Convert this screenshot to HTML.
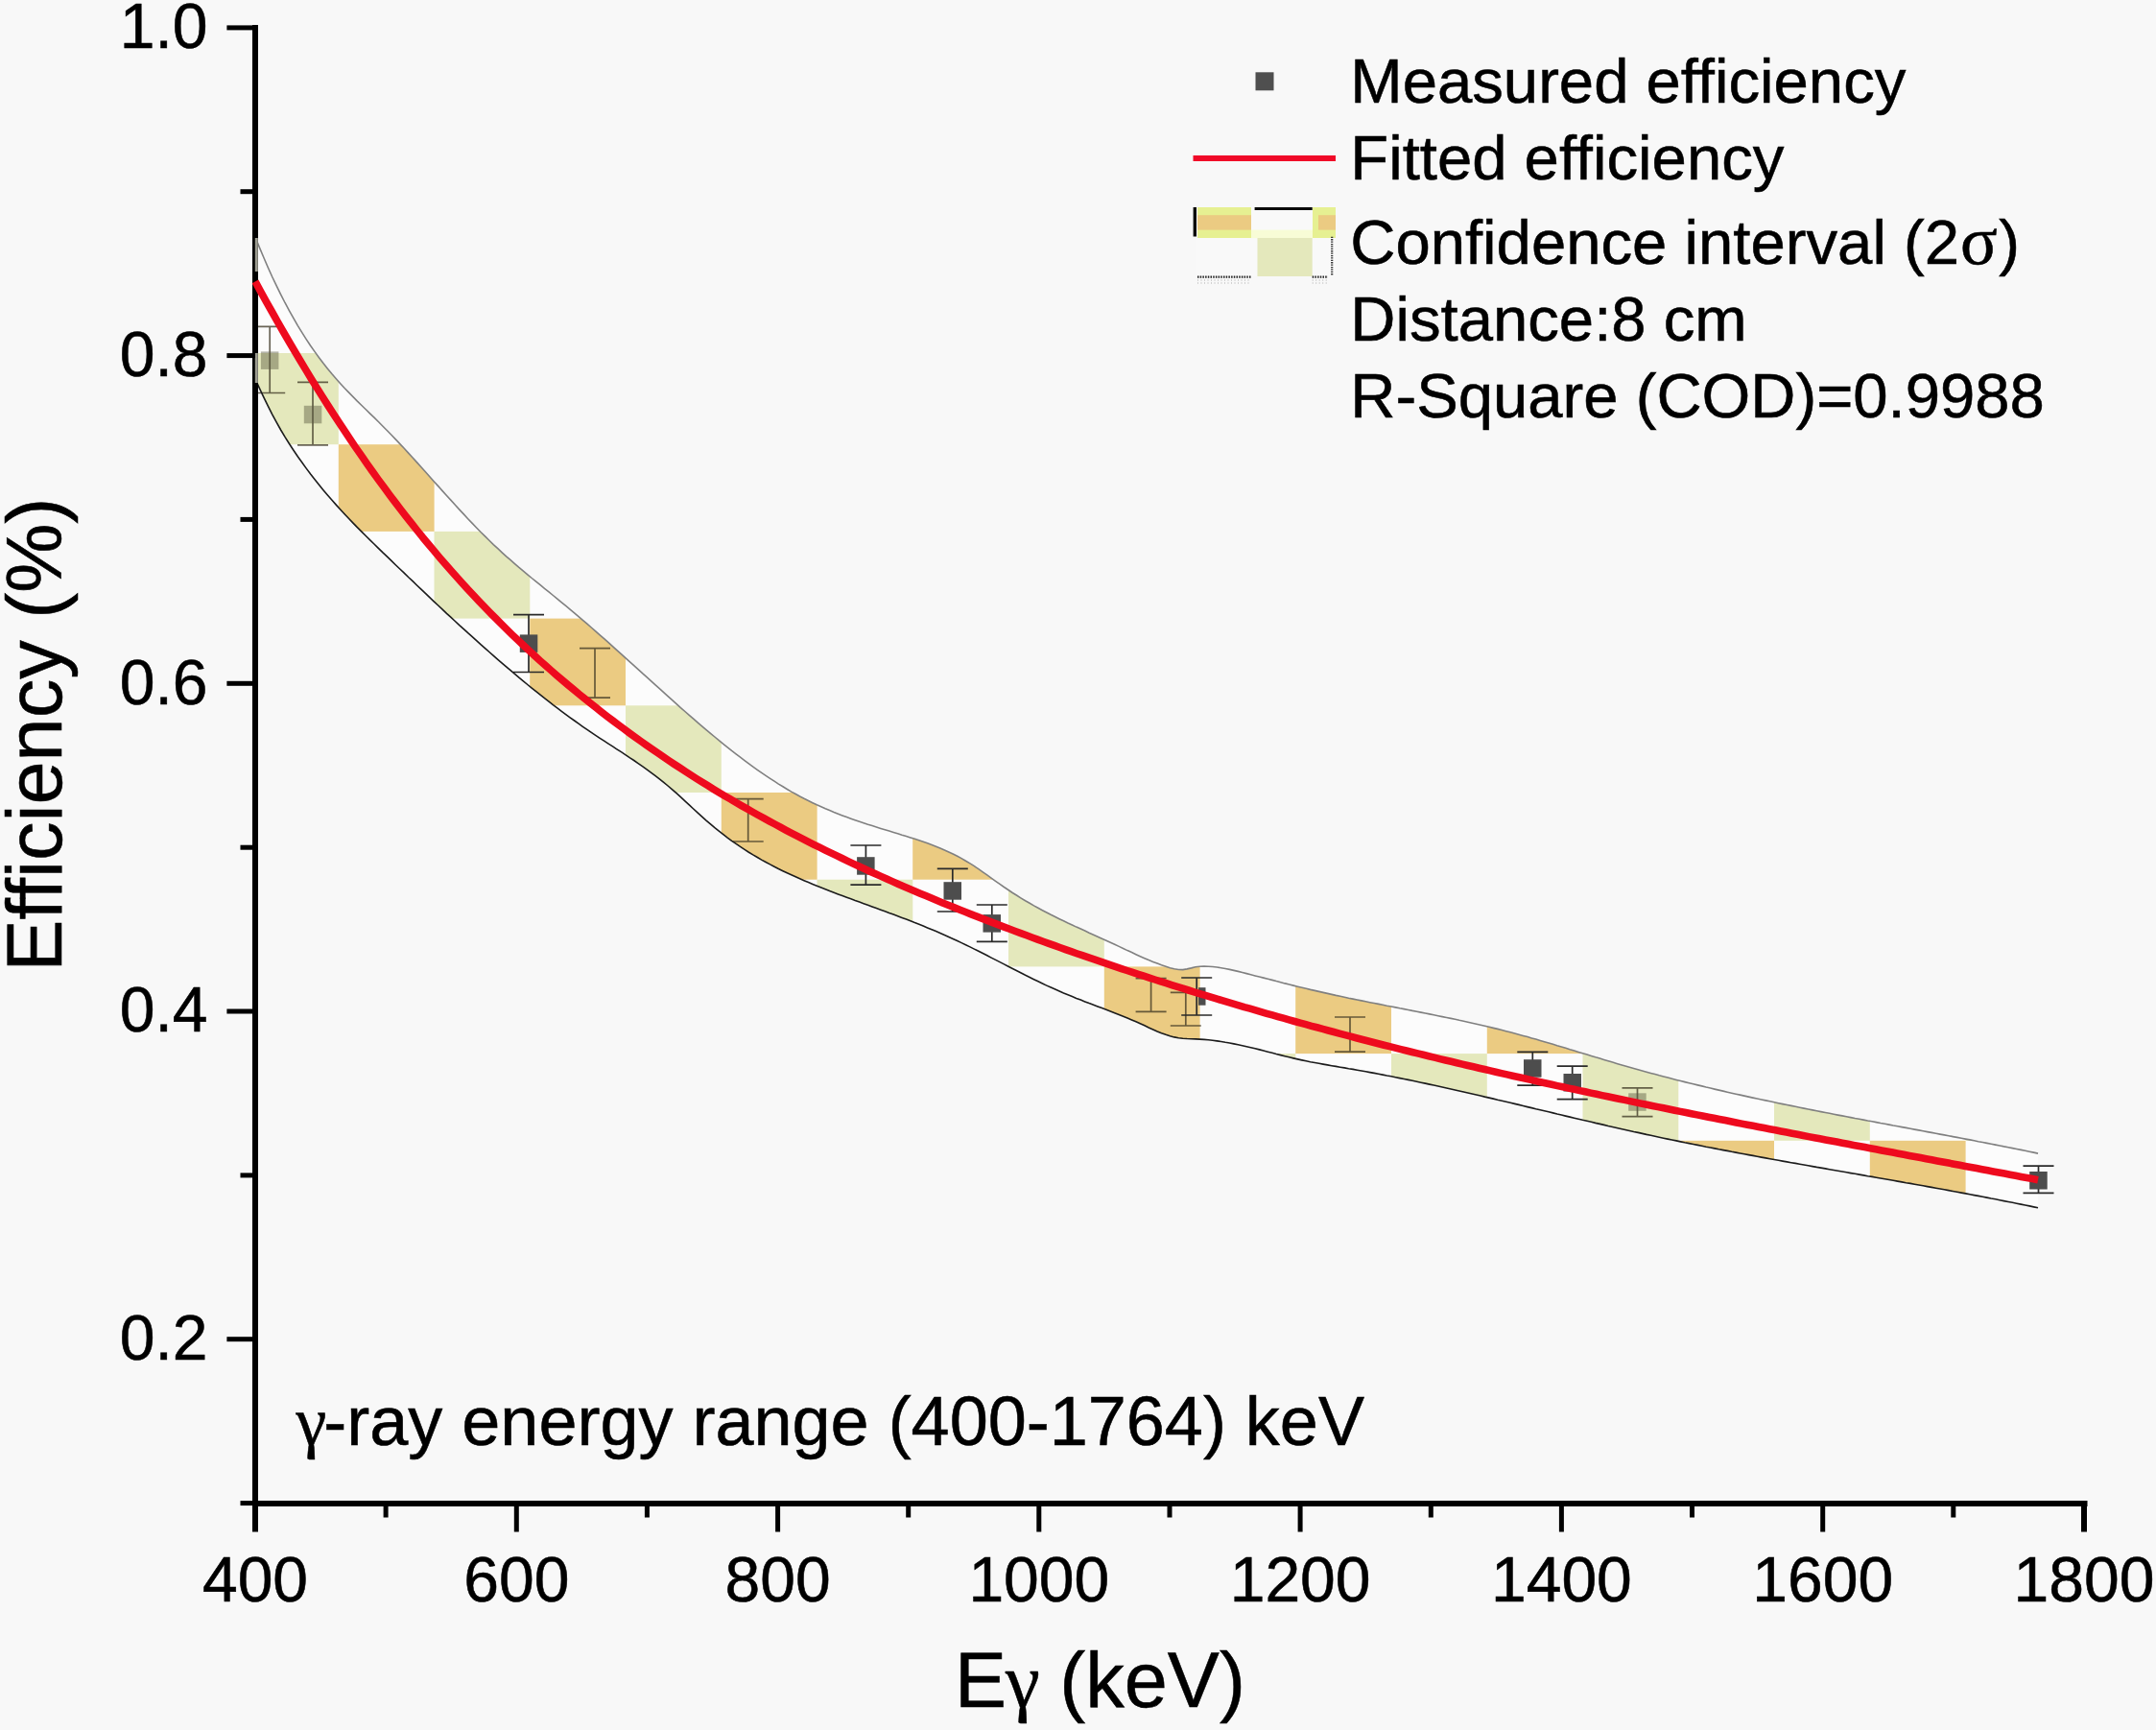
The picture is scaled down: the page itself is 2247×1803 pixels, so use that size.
<!DOCTYPE html>
<html lang="en"><head><meta charset="utf-8"><title>Efficiency vs E gamma</title>
<style>html,body{margin:0;padding:0;background:#f8f8f8;overflow:hidden;}svg{display:block;}text{font-family:"Liberation Sans",sans-serif;fill:#000;stroke:#000;stroke-width:0.55px;}.sym{font-family:"Liberation Serif","DejaVu Serif",serif;}</style></head><body>
<svg width="2247" height="1803" viewBox="0 0 2247 1803">
<rect x="0" y="0" width="2247" height="1803" fill="#f8f8f8"/>
<defs><clipPath id="band"><path d="M266.0,246.9 L270.4,257.9 L274.9,268.5 L279.3,278.7 L283.7,288.5 L288.2,297.9 L292.6,306.9 L297.0,315.5 L301.5,323.8 L305.9,331.7 L310.3,339.3 L314.8,346.6 L319.2,353.6 L323.6,360.3 L328.1,366.6 L332.5,372.7 L336.9,378.6 L341.4,384.2 L345.8,389.6 L350.3,394.7 L354.7,399.7 L359.1,404.5 L363.6,409.1 L368.0,413.6 L372.4,418.1 L376.9,422.5 L381.3,426.8 L385.7,431.1 L390.2,435.4 L394.6,439.8 L399.0,444.2 L403.5,448.7 L407.9,453.2 L412.3,457.9 L416.8,462.6 L421.2,467.3 L425.6,472.1 L430.1,477.0 L434.5,481.9 L438.9,486.8 L443.4,491.7 L447.8,496.7 L452.2,501.7 L456.7,506.6 L461.1,511.6 L465.5,516.5 L470.0,521.4 L474.4,526.3 L478.8,531.1 L483.3,535.9 L487.7,540.7 L492.2,545.4 L496.6,550.0 L501.0,554.5 L505.5,558.9 L509.9,563.3 L514.3,567.6 L518.8,571.7 L523.2,575.8 L527.6,579.8 L532.1,583.7 L536.5,587.6 L540.9,591.4 L545.4,595.1 L549.8,598.8 L554.2,602.5 L558.7,606.1 L563.1,609.7 L567.5,613.4 L572.0,616.9 L576.4,620.5 L580.8,624.1 L585.3,627.8 L589.7,631.4 L594.1,635.1 L598.6,638.8 L603.0,642.6 L607.4,646.3 L611.9,650.2 L616.3,654.0 L620.7,657.9 L625.2,661.8 L629.6,665.7 L634.1,669.7 L638.5,673.6 L642.9,677.6 L647.4,681.6 L651.8,685.6 L656.2,689.6 L660.7,693.6 L665.1,697.6 L669.5,701.7 L674.0,705.7 L678.4,709.7 L682.8,713.7 L687.3,717.7 L691.7,721.7 L696.1,725.7 L700.6,729.7 L705.0,733.6 L709.4,737.6 L713.9,741.5 L718.3,745.4 L722.7,749.2 L727.2,753.1 L731.6,756.9 L736.0,760.6 L740.5,764.3 L744.9,768.0 L749.3,771.7 L753.8,775.3 L758.2,778.8 L762.6,782.4 L767.1,785.8 L771.5,789.2 L776.0,792.6 L780.4,795.9 L784.8,799.1 L789.3,802.3 L793.7,805.4 L798.1,808.4 L802.6,811.4 L807.0,814.2 L811.4,817.1 L815.9,819.8 L820.3,822.5 L824.7,825.1 L829.2,827.5 L833.6,830.0 L838.0,832.3 L842.5,834.5 L846.9,836.7 L851.3,838.8 L855.8,840.8 L860.2,842.8 L864.6,844.6 L869.1,846.5 L873.5,848.2 L877.9,849.9 L882.4,851.6 L886.8,853.2 L891.2,854.7 L895.7,856.2 L900.1,857.7 L904.5,859.2 L909.0,860.6 L913.4,862.0 L917.9,863.4 L922.3,864.7 L926.7,866.1 L931.2,867.5 L935.6,868.8 L940.0,870.2 L944.5,871.5 L948.9,872.9 L953.3,874.3 L957.8,875.8 L962.2,877.3 L966.6,878.8 L971.1,880.5 L975.5,882.2 L979.9,884.0 L984.4,885.9 L988.8,887.9 L993.2,890.0 L997.7,892.2 L1002.1,894.6 L1006.5,897.2 L1011.0,899.9 L1015.4,902.7 L1019.8,905.7 L1024.3,908.8 L1028.7,911.9 L1033.1,915.1 L1037.6,918.3 L1042.0,921.4 L1046.4,924.5 L1050.9,927.5 L1055.3,930.5 L1059.8,933.3 L1064.2,936.1 L1068.6,938.8 L1073.1,941.3 L1077.5,943.9 L1081.9,946.3 L1086.4,948.7 L1090.8,951.0 L1095.2,953.3 L1099.7,955.5 L1104.1,957.7 L1108.5,959.8 L1113.0,962.0 L1117.4,964.0 L1121.8,966.1 L1126.3,968.1 L1130.7,970.1 L1135.1,972.2 L1139.6,974.2 L1144.0,976.2 L1148.4,978.2 L1152.9,980.2 L1157.3,982.2 L1161.7,984.3 L1166.2,986.4 L1170.6,988.5 L1175.0,990.6 L1179.5,992.6 L1183.9,994.7 L1188.3,996.7 L1192.8,998.7 L1197.2,1000.6 L1201.7,1002.4 L1206.1,1004.1 L1210.5,1005.8 L1215.0,1007.3 L1219.4,1008.7 L1223.8,1009.8 L1228.3,1010.5 L1232.7,1010.6 L1237.1,1009.9 L1241.6,1008.9 L1246.0,1007.8 L1250.4,1007.2 L1254.9,1007.0 L1259.3,1007.2 L1263.7,1007.5 L1268.2,1008.0 L1272.6,1008.7 L1277.0,1009.5 L1281.5,1010.4 L1285.9,1011.4 L1290.3,1012.4 L1294.8,1013.5 L1299.2,1014.6 L1303.6,1015.7 L1308.1,1016.9 L1312.5,1018.0 L1316.9,1019.1 L1321.4,1020.3 L1325.8,1021.4 L1330.2,1022.6 L1334.7,1023.7 L1339.1,1024.9 L1343.6,1026.0 L1348.0,1027.1 L1352.4,1028.2 L1356.9,1029.3 L1361.3,1030.3 L1365.7,1031.4 L1370.2,1032.4 L1374.6,1033.4 L1379.0,1034.4 L1383.5,1035.4 L1387.9,1036.4 L1392.3,1037.4 L1396.8,1038.3 L1401.2,1039.2 L1405.6,1040.2 L1410.1,1041.1 L1414.5,1042.0 L1418.9,1042.9 L1423.4,1043.8 L1427.8,1044.7 L1432.2,1045.5 L1436.7,1046.4 L1441.1,1047.3 L1445.5,1048.2 L1450.0,1049.0 L1454.4,1049.9 L1458.8,1050.8 L1463.3,1051.6 L1467.7,1052.5 L1472.1,1053.4 L1476.6,1054.2 L1481.0,1055.1 L1485.5,1056.0 L1489.9,1056.9 L1494.3,1057.8 L1498.8,1058.7 L1503.2,1059.6 L1507.6,1060.5 L1512.1,1061.4 L1516.5,1062.3 L1520.9,1063.3 L1525.4,1064.2 L1529.8,1065.2 L1534.2,1066.2 L1538.7,1067.2 L1543.1,1068.2 L1547.5,1069.2 L1552.0,1070.3 L1556.4,1071.4 L1560.8,1072.4 L1565.3,1073.5 L1569.7,1074.7 L1574.1,1075.8 L1578.6,1077.0 L1583.0,1078.2 L1587.4,1079.4 L1591.9,1080.6 L1596.3,1081.9 L1600.7,1083.1 L1605.2,1084.4 L1609.6,1085.7 L1614.0,1087.0 L1618.5,1088.3 L1622.9,1089.7 L1627.4,1091.0 L1631.8,1092.3 L1636.2,1093.7 L1640.7,1095.0 L1645.1,1096.4 L1649.5,1097.7 L1654.0,1099.1 L1658.4,1100.4 L1662.8,1101.8 L1667.3,1103.1 L1671.7,1104.5 L1676.1,1105.8 L1680.6,1107.1 L1685.0,1108.4 L1689.4,1109.7 L1693.9,1111.0 L1698.3,1112.3 L1702.7,1113.5 L1707.2,1114.8 L1711.6,1116.0 L1716.0,1117.2 L1720.5,1118.4 L1724.9,1119.6 L1729.3,1120.8 L1733.8,1121.9 L1738.2,1123.1 L1742.6,1124.2 L1747.1,1125.4 L1751.5,1126.5 L1755.9,1127.6 L1760.4,1128.7 L1764.8,1129.8 L1769.3,1130.9 L1773.7,1131.9 L1778.1,1133.0 L1782.6,1134.0 L1787.0,1135.1 L1791.4,1136.1 L1795.9,1137.1 L1800.3,1138.2 L1804.7,1139.2 L1809.2,1140.2 L1813.6,1141.1 L1818.0,1142.1 L1822.5,1143.1 L1826.9,1144.1 L1831.3,1145.0 L1835.8,1146.0 L1840.2,1146.9 L1844.6,1147.8 L1849.1,1148.8 L1853.5,1149.7 L1857.9,1150.6 L1862.4,1151.5 L1866.8,1152.4 L1871.2,1153.3 L1875.7,1154.2 L1880.1,1155.1 L1884.5,1156.0 L1889.0,1156.9 L1893.4,1157.7 L1897.8,1158.6 L1902.3,1159.5 L1906.7,1160.3 L1911.2,1161.2 L1915.6,1162.1 L1920.0,1162.9 L1924.5,1163.8 L1928.9,1164.6 L1933.3,1165.5 L1937.8,1166.3 L1942.2,1167.1 L1946.6,1168.0 L1951.1,1168.8 L1955.5,1169.6 L1959.9,1170.5 L1964.4,1171.3 L1968.8,1172.1 L1973.2,1173.0 L1977.7,1173.8 L1982.1,1174.6 L1986.5,1175.4 L1991.0,1176.3 L1995.4,1177.1 L1999.8,1177.9 L2004.3,1178.7 L2008.7,1179.6 L2013.1,1180.4 L2017.6,1181.2 L2022.0,1182.1 L2026.4,1182.9 L2030.9,1183.7 L2035.3,1184.6 L2039.7,1185.4 L2044.2,1186.3 L2048.6,1187.1 L2053.1,1187.9 L2057.5,1188.8 L2061.9,1189.7 L2066.4,1190.5 L2070.8,1191.4 L2075.2,1192.2 L2079.7,1193.1 L2084.1,1194.0 L2088.5,1194.9 L2093.0,1195.7 L2097.4,1196.6 L2101.8,1197.5 L2106.3,1198.4 L2110.7,1199.3 L2115.1,1200.2 L2119.6,1201.1 L2124.0,1202.1 L2124.0,1258.8 L2119.6,1257.9 L2115.1,1256.9 L2110.7,1256.0 L2106.3,1255.1 L2101.8,1254.2 L2097.4,1253.3 L2093.0,1252.5 L2088.5,1251.6 L2084.1,1250.7 L2079.7,1249.8 L2075.2,1249.0 L2070.8,1248.1 L2066.4,1247.3 L2061.9,1246.4 L2057.5,1245.6 L2053.1,1244.8 L2048.6,1243.9 L2044.2,1243.1 L2039.7,1242.3 L2035.3,1241.5 L2030.9,1240.6 L2026.4,1239.8 L2022.0,1239.0 L2017.6,1238.2 L2013.1,1237.4 L2008.7,1236.6 L2004.3,1235.8 L1999.8,1235.0 L1995.4,1234.2 L1991.0,1233.4 L1986.5,1232.7 L1982.1,1231.9 L1977.7,1231.1 L1973.2,1230.3 L1968.8,1229.5 L1964.4,1228.8 L1959.9,1228.0 L1955.5,1227.2 L1951.1,1226.4 L1946.6,1225.7 L1942.2,1224.9 L1937.8,1224.1 L1933.3,1223.3 L1928.9,1222.6 L1924.5,1221.8 L1920.0,1221.0 L1915.6,1220.2 L1911.2,1219.5 L1906.7,1218.7 L1902.3,1217.9 L1897.8,1217.1 L1893.4,1216.4 L1889.0,1215.6 L1884.5,1214.8 L1880.1,1214.0 L1875.7,1213.2 L1871.2,1212.4 L1866.8,1211.7 L1862.4,1210.9 L1857.9,1210.1 L1853.5,1209.3 L1849.1,1208.5 L1844.6,1207.7 L1840.2,1206.9 L1835.8,1206.1 L1831.3,1205.2 L1826.9,1204.4 L1822.5,1203.6 L1818.0,1202.8 L1813.6,1202.0 L1809.2,1201.1 L1804.7,1200.3 L1800.3,1199.4 L1795.9,1198.6 L1791.4,1197.8 L1787.0,1196.9 L1782.6,1196.0 L1778.1,1195.2 L1773.7,1194.3 L1769.3,1193.4 L1764.8,1192.5 L1760.4,1191.6 L1755.9,1190.8 L1751.5,1189.9 L1747.1,1188.9 L1742.6,1188.0 L1738.2,1187.1 L1733.8,1186.2 L1729.3,1185.2 L1724.9,1184.3 L1720.5,1183.3 L1716.0,1182.4 L1711.6,1181.4 L1707.2,1180.4 L1702.7,1179.5 L1698.3,1178.5 L1693.9,1177.5 L1689.4,1176.5 L1685.0,1175.5 L1680.6,1174.5 L1676.1,1173.5 L1671.7,1172.4 L1667.3,1171.4 L1662.8,1170.4 L1658.4,1169.3 L1654.0,1168.3 L1649.5,1167.3 L1645.1,1166.2 L1640.7,1165.2 L1636.2,1164.1 L1631.8,1163.1 L1627.4,1162.0 L1622.9,1161.0 L1618.5,1159.9 L1614.0,1158.8 L1609.6,1157.8 L1605.2,1156.7 L1600.7,1155.7 L1596.3,1154.6 L1591.9,1153.6 L1587.4,1152.5 L1583.0,1151.4 L1578.6,1150.4 L1574.1,1149.3 L1569.7,1148.3 L1565.3,1147.2 L1560.8,1146.2 L1556.4,1145.1 L1552.0,1144.1 L1547.5,1143.1 L1543.1,1142.0 L1538.7,1141.0 L1534.2,1140.0 L1529.8,1139.0 L1525.4,1138.0 L1520.9,1137.0 L1516.5,1136.0 L1512.1,1135.0 L1507.6,1134.0 L1503.2,1133.0 L1498.8,1132.0 L1494.3,1131.0 L1489.9,1130.1 L1485.5,1129.1 L1481.0,1128.2 L1476.6,1127.3 L1472.1,1126.3 L1467.7,1125.4 L1463.3,1124.5 L1458.8,1123.6 L1454.4,1122.7 L1450.0,1121.8 L1445.5,1121.0 L1441.1,1120.1 L1436.7,1119.3 L1432.2,1118.4 L1427.8,1117.6 L1423.4,1116.8 L1418.9,1116.0 L1414.5,1115.2 L1410.1,1114.4 L1405.6,1113.7 L1401.2,1112.9 L1396.8,1112.2 L1392.3,1111.4 L1387.9,1110.7 L1383.5,1109.9 L1379.0,1109.1 L1374.6,1108.3 L1370.2,1107.5 L1365.7,1106.7 L1361.3,1105.8 L1356.9,1104.9 L1352.4,1103.9 L1348.0,1102.9 L1343.6,1101.8 L1339.1,1100.7 L1334.7,1099.6 L1330.2,1098.5 L1325.8,1097.3 L1321.4,1096.2 L1316.9,1095.0 L1312.5,1093.9 L1308.1,1092.8 L1303.6,1091.7 L1299.2,1090.7 L1294.8,1089.7 L1290.3,1088.8 L1285.9,1087.9 L1281.5,1087.0 L1277.0,1086.3 L1272.6,1085.5 L1268.2,1084.9 L1263.7,1084.3 L1259.3,1083.8 L1254.9,1083.4 L1250.4,1083.1 L1246.0,1082.9 L1241.6,1082.7 L1237.1,1082.5 L1232.7,1082.2 L1228.3,1081.7 L1223.8,1080.9 L1219.4,1079.7 L1215.0,1078.3 L1210.5,1076.7 L1206.1,1074.9 L1201.7,1072.9 L1197.2,1070.9 L1192.8,1068.8 L1188.3,1066.8 L1183.9,1064.8 L1179.5,1062.9 L1175.0,1061.0 L1170.6,1059.2 L1166.2,1057.5 L1161.7,1055.7 L1157.3,1054.0 L1152.9,1052.3 L1148.4,1050.6 L1144.0,1048.9 L1139.6,1047.2 L1135.1,1045.6 L1130.7,1043.9 L1126.3,1042.1 L1121.8,1040.4 L1117.4,1038.6 L1113.0,1036.8 L1108.5,1035.0 L1104.1,1033.1 L1099.7,1031.1 L1095.2,1029.1 L1090.8,1027.1 L1086.4,1025.0 L1081.9,1022.8 L1077.5,1020.7 L1073.1,1018.5 L1068.6,1016.3 L1064.2,1014.0 L1059.8,1011.8 L1055.3,1009.5 L1050.9,1007.2 L1046.4,1004.9 L1042.0,1002.6 L1037.6,1000.4 L1033.1,998.1 L1028.7,995.8 L1024.3,993.5 L1019.8,991.3 L1015.4,989.1 L1011.0,986.9 L1006.5,984.7 L1002.1,982.6 L997.7,980.5 L993.2,978.4 L988.8,976.4 L984.4,974.4 L979.9,972.5 L975.5,970.6 L971.1,968.7 L966.6,966.9 L962.2,965.1 L957.8,963.3 L953.3,961.6 L948.9,959.8 L944.5,958.1 L940.0,956.4 L935.6,954.8 L931.2,953.1 L926.7,951.5 L922.3,949.8 L917.9,948.2 L913.4,946.6 L909.0,945.0 L904.5,943.3 L900.1,941.7 L895.7,940.1 L891.2,938.5 L886.8,936.8 L882.4,935.2 L877.9,933.5 L873.5,931.9 L869.1,930.2 L864.6,928.5 L860.2,926.7 L855.8,925.0 L851.3,923.2 L846.9,921.4 L842.5,919.6 L838.0,917.7 L833.6,915.8 L829.2,913.8 L824.7,911.8 L820.3,909.8 L815.9,907.7 L811.4,905.5 L807.0,903.2 L802.6,900.9 L798.1,898.5 L793.7,896.1 L789.3,893.5 L784.8,890.9 L780.4,888.2 L776.0,885.3 L771.5,882.4 L767.1,879.4 L762.6,876.3 L758.2,873.1 L753.8,869.7 L749.3,866.2 L744.9,862.7 L740.5,858.9 L736.0,855.1 L731.6,851.1 L727.2,847.1 L722.7,843.0 L718.3,838.9 L713.9,834.8 L709.4,830.7 L705.0,826.7 L700.6,822.8 L696.1,819.0 L691.7,815.4 L687.3,811.8 L682.8,808.4 L678.4,805.1 L674.0,801.8 L669.5,798.7 L665.1,795.6 L660.7,792.5 L656.2,789.6 L651.8,786.6 L647.4,783.7 L642.9,780.8 L638.5,777.9 L634.1,775.1 L629.6,772.2 L625.2,769.3 L620.7,766.3 L616.3,763.4 L611.9,760.4 L607.4,757.3 L603.0,754.2 L598.6,751.0 L594.1,747.8 L589.7,744.6 L585.3,741.3 L580.8,737.9 L576.4,734.6 L572.0,731.1 L567.5,727.7 L563.1,724.2 L558.7,720.7 L554.2,717.1 L549.8,713.5 L545.4,709.8 L540.9,706.2 L536.5,702.4 L532.1,698.7 L527.6,694.9 L523.2,691.1 L518.8,687.3 L514.3,683.4 L509.9,679.5 L505.5,675.6 L501.0,671.7 L496.6,667.7 L492.2,663.7 L487.7,659.7 L483.3,655.6 L478.8,651.6 L474.4,647.5 L470.0,643.4 L465.5,639.3 L461.1,635.1 L456.7,631.0 L452.2,626.8 L447.8,622.6 L443.4,618.4 L438.9,614.2 L434.5,610.0 L430.1,605.7 L425.6,601.5 L421.2,597.2 L416.8,593.0 L412.3,588.7 L407.9,584.4 L403.5,580.1 L399.0,575.9 L394.6,571.6 L390.2,567.2 L385.7,562.9 L381.3,558.5 L376.9,554.1 L372.4,549.6 L368.0,545.1 L363.6,540.5 L359.1,535.8 L354.7,531.0 L350.3,526.1 L345.8,521.1 L341.4,516.0 L336.9,510.7 L332.5,505.3 L328.1,499.7 L323.6,494.0 L319.2,488.1 L314.8,482.0 L310.3,475.8 L305.9,469.3 L301.5,462.5 L297.0,455.4 L292.6,448.0 L288.2,440.2 L283.7,431.9 L279.3,423.2 L274.9,414.2 L270.4,404.7 L266.0,395.0 Z"/></clipPath></defs>
<g clip-path="url(#band)">
<rect x="250" y="230" width="1900" height="1050" fill="#fcfcfc"/>
<rect x="253.0" y="368.0" width="99.8" height="95.20" fill="#e4e8bc"/>
<rect x="452.5" y="368.0" width="99.8" height="95.20" fill="#e4e8bc"/>
<rect x="652.0" y="368.0" width="99.8" height="95.20" fill="#e4e8bc"/>
<rect x="851.5" y="368.0" width="99.8" height="95.20" fill="#e4e8bc"/>
<rect x="1051.0" y="368.0" width="99.8" height="95.20" fill="#e4e8bc"/>
<rect x="1250.5" y="368.0" width="99.8" height="95.20" fill="#e4e8bc"/>
<rect x="1450.0" y="368.0" width="99.8" height="95.20" fill="#e4e8bc"/>
<rect x="1649.5" y="368.0" width="99.8" height="95.20" fill="#e4e8bc"/>
<rect x="1849.0" y="368.0" width="99.8" height="95.20" fill="#e4e8bc"/>
<rect x="2048.5" y="368.0" width="99.8" height="95.20" fill="#e4e8bc"/>
<rect x="352.8" y="463.2" width="99.8" height="90.70" fill="#ebcb82"/>
<rect x="552.2" y="463.2" width="99.8" height="90.70" fill="#ebcb82"/>
<rect x="751.8" y="463.2" width="99.8" height="90.70" fill="#ebcb82"/>
<rect x="951.2" y="463.2" width="99.8" height="90.70" fill="#ebcb82"/>
<rect x="1150.8" y="463.2" width="99.8" height="90.70" fill="#ebcb82"/>
<rect x="1350.2" y="463.2" width="99.8" height="90.70" fill="#ebcb82"/>
<rect x="1549.8" y="463.2" width="99.8" height="90.70" fill="#ebcb82"/>
<rect x="1749.2" y="463.2" width="99.8" height="90.70" fill="#ebcb82"/>
<rect x="1948.8" y="463.2" width="99.8" height="90.70" fill="#ebcb82"/>
<rect x="2148.2" y="463.2" width="99.8" height="90.70" fill="#ebcb82"/>
<rect x="253.0" y="553.9" width="99.8" height="90.70" fill="#e4e8bc"/>
<rect x="452.5" y="553.9" width="99.8" height="90.70" fill="#e4e8bc"/>
<rect x="652.0" y="553.9" width="99.8" height="90.70" fill="#e4e8bc"/>
<rect x="851.5" y="553.9" width="99.8" height="90.70" fill="#e4e8bc"/>
<rect x="1051.0" y="553.9" width="99.8" height="90.70" fill="#e4e8bc"/>
<rect x="1250.5" y="553.9" width="99.8" height="90.70" fill="#e4e8bc"/>
<rect x="1450.0" y="553.9" width="99.8" height="90.70" fill="#e4e8bc"/>
<rect x="1649.5" y="553.9" width="99.8" height="90.70" fill="#e4e8bc"/>
<rect x="1849.0" y="553.9" width="99.8" height="90.70" fill="#e4e8bc"/>
<rect x="2048.5" y="553.9" width="99.8" height="90.70" fill="#e4e8bc"/>
<rect x="352.8" y="644.6" width="99.8" height="90.70" fill="#ebcb82"/>
<rect x="552.2" y="644.6" width="99.8" height="90.70" fill="#ebcb82"/>
<rect x="751.8" y="644.6" width="99.8" height="90.70" fill="#ebcb82"/>
<rect x="951.2" y="644.6" width="99.8" height="90.70" fill="#ebcb82"/>
<rect x="1150.8" y="644.6" width="99.8" height="90.70" fill="#ebcb82"/>
<rect x="1350.2" y="644.6" width="99.8" height="90.70" fill="#ebcb82"/>
<rect x="1549.8" y="644.6" width="99.8" height="90.70" fill="#ebcb82"/>
<rect x="1749.2" y="644.6" width="99.8" height="90.70" fill="#ebcb82"/>
<rect x="1948.8" y="644.6" width="99.8" height="90.70" fill="#ebcb82"/>
<rect x="2148.2" y="644.6" width="99.8" height="90.70" fill="#ebcb82"/>
<rect x="253.0" y="735.3" width="99.8" height="90.70" fill="#e4e8bc"/>
<rect x="452.5" y="735.3" width="99.8" height="90.70" fill="#e4e8bc"/>
<rect x="652.0" y="735.3" width="99.8" height="90.70" fill="#e4e8bc"/>
<rect x="851.5" y="735.3" width="99.8" height="90.70" fill="#e4e8bc"/>
<rect x="1051.0" y="735.3" width="99.8" height="90.70" fill="#e4e8bc"/>
<rect x="1250.5" y="735.3" width="99.8" height="90.70" fill="#e4e8bc"/>
<rect x="1450.0" y="735.3" width="99.8" height="90.70" fill="#e4e8bc"/>
<rect x="1649.5" y="735.3" width="99.8" height="90.70" fill="#e4e8bc"/>
<rect x="1849.0" y="735.3" width="99.8" height="90.70" fill="#e4e8bc"/>
<rect x="2048.5" y="735.3" width="99.8" height="90.70" fill="#e4e8bc"/>
<rect x="352.8" y="826.0" width="99.8" height="90.70" fill="#ebcb82"/>
<rect x="552.2" y="826.0" width="99.8" height="90.70" fill="#ebcb82"/>
<rect x="751.8" y="826.0" width="99.8" height="90.70" fill="#ebcb82"/>
<rect x="951.2" y="826.0" width="99.8" height="90.70" fill="#ebcb82"/>
<rect x="1150.8" y="826.0" width="99.8" height="90.70" fill="#ebcb82"/>
<rect x="1350.2" y="826.0" width="99.8" height="90.70" fill="#ebcb82"/>
<rect x="1549.8" y="826.0" width="99.8" height="90.70" fill="#ebcb82"/>
<rect x="1749.2" y="826.0" width="99.8" height="90.70" fill="#ebcb82"/>
<rect x="1948.8" y="826.0" width="99.8" height="90.70" fill="#ebcb82"/>
<rect x="2148.2" y="826.0" width="99.8" height="90.70" fill="#ebcb82"/>
<rect x="253.0" y="916.7" width="99.8" height="90.70" fill="#e4e8bc"/>
<rect x="452.5" y="916.7" width="99.8" height="90.70" fill="#e4e8bc"/>
<rect x="652.0" y="916.7" width="99.8" height="90.70" fill="#e4e8bc"/>
<rect x="851.5" y="916.7" width="99.8" height="90.70" fill="#e4e8bc"/>
<rect x="1051.0" y="916.7" width="99.8" height="90.70" fill="#e4e8bc"/>
<rect x="1250.5" y="916.7" width="99.8" height="90.70" fill="#e4e8bc"/>
<rect x="1450.0" y="916.7" width="99.8" height="90.70" fill="#e4e8bc"/>
<rect x="1649.5" y="916.7" width="99.8" height="90.70" fill="#e4e8bc"/>
<rect x="1849.0" y="916.7" width="99.8" height="90.70" fill="#e4e8bc"/>
<rect x="2048.5" y="916.7" width="99.8" height="90.70" fill="#e4e8bc"/>
<rect x="352.8" y="1007.4" width="99.8" height="90.70" fill="#ebcb82"/>
<rect x="552.2" y="1007.4" width="99.8" height="90.70" fill="#ebcb82"/>
<rect x="751.8" y="1007.4" width="99.8" height="90.70" fill="#ebcb82"/>
<rect x="951.2" y="1007.4" width="99.8" height="90.70" fill="#ebcb82"/>
<rect x="1150.8" y="1007.4" width="99.8" height="90.70" fill="#ebcb82"/>
<rect x="1350.2" y="1007.4" width="99.8" height="90.70" fill="#ebcb82"/>
<rect x="1549.8" y="1007.4" width="99.8" height="90.70" fill="#ebcb82"/>
<rect x="1749.2" y="1007.4" width="99.8" height="90.70" fill="#ebcb82"/>
<rect x="1948.8" y="1007.4" width="99.8" height="90.70" fill="#ebcb82"/>
<rect x="2148.2" y="1007.4" width="99.8" height="90.70" fill="#ebcb82"/>
<rect x="253.0" y="1098.1" width="99.8" height="90.70" fill="#e4e8bc"/>
<rect x="452.5" y="1098.1" width="99.8" height="90.70" fill="#e4e8bc"/>
<rect x="652.0" y="1098.1" width="99.8" height="90.70" fill="#e4e8bc"/>
<rect x="851.5" y="1098.1" width="99.8" height="90.70" fill="#e4e8bc"/>
<rect x="1051.0" y="1098.1" width="99.8" height="90.70" fill="#e4e8bc"/>
<rect x="1250.5" y="1098.1" width="99.8" height="90.70" fill="#e4e8bc"/>
<rect x="1450.0" y="1098.1" width="99.8" height="90.70" fill="#e4e8bc"/>
<rect x="1649.5" y="1098.1" width="99.8" height="90.70" fill="#e4e8bc"/>
<rect x="1849.0" y="1098.1" width="99.8" height="90.70" fill="#e4e8bc"/>
<rect x="2048.5" y="1098.1" width="99.8" height="90.70" fill="#e4e8bc"/>
<rect x="352.8" y="1188.8" width="99.8" height="90.70" fill="#ebcb82"/>
<rect x="552.2" y="1188.8" width="99.8" height="90.70" fill="#ebcb82"/>
<rect x="751.8" y="1188.8" width="99.8" height="90.70" fill="#ebcb82"/>
<rect x="951.2" y="1188.8" width="99.8" height="90.70" fill="#ebcb82"/>
<rect x="1150.8" y="1188.8" width="99.8" height="90.70" fill="#ebcb82"/>
<rect x="1350.2" y="1188.8" width="99.8" height="90.70" fill="#ebcb82"/>
<rect x="1549.8" y="1188.8" width="99.8" height="90.70" fill="#ebcb82"/>
<rect x="1749.2" y="1188.8" width="99.8" height="90.70" fill="#ebcb82"/>
<rect x="1948.8" y="1188.8" width="99.8" height="90.70" fill="#ebcb82"/>
<rect x="2148.2" y="1188.8" width="99.8" height="90.70" fill="#ebcb82"/>
<rect x="253.0" y="1279.5" width="99.8" height="90.70" fill="#e4e8bc"/>
<rect x="452.5" y="1279.5" width="99.8" height="90.70" fill="#e4e8bc"/>
<rect x="652.0" y="1279.5" width="99.8" height="90.70" fill="#e4e8bc"/>
<rect x="851.5" y="1279.5" width="99.8" height="90.70" fill="#e4e8bc"/>
<rect x="1051.0" y="1279.5" width="99.8" height="90.70" fill="#e4e8bc"/>
<rect x="1250.5" y="1279.5" width="99.8" height="90.70" fill="#e4e8bc"/>
<rect x="1450.0" y="1279.5" width="99.8" height="90.70" fill="#e4e8bc"/>
<rect x="1649.5" y="1279.5" width="99.8" height="90.70" fill="#e4e8bc"/>
<rect x="1849.0" y="1279.5" width="99.8" height="90.70" fill="#e4e8bc"/>
<rect x="2048.5" y="1279.5" width="99.8" height="90.70" fill="#e4e8bc"/>
</g>
<g>
<path d="M281.2,340.3 V409.5 M265.2,340.3 H288.5 M265.2,409.5 H297.2" stroke="#3a3320" stroke-width="1.7" fill="none" opacity="0.75"/>
<rect x="271.9" y="366.4" width="18.5" height="18.5" fill="#5a5a40" opacity="0.45"/>
<path d="M326.0,398.4 V463.8 M310.0,398.4 H342.0 M310.0,463.8 H342.0" stroke="#3a3320" stroke-width="1.7" fill="none" opacity="0.75"/>
<rect x="316.8" y="422.8" width="18.5" height="18.5" fill="#5a5a40" opacity="0.45"/>
<path d="M551.0,640.6 V700.5 M535.0,640.6 H567.0 M535.0,700.5 H567.0" stroke="#2a2a2a" stroke-width="1.7" fill="none" opacity="1"/>
<rect x="541.8" y="661.4" width="18.5" height="18.5" fill="#4d4d4d"/>
<path d="M620.0,675.6 V727.1 M604.0,675.6 H636.0 M604.0,727.1 H636.0" stroke="#3a3320" stroke-width="1.7" fill="none" opacity="0.75"/>
<path d="M779.7,832.6 V877.0 M763.7,832.6 H795.7 M763.7,877.0 H795.7" stroke="#3a3320" stroke-width="1.7" fill="none" opacity="0.75"/>
<path d="M902.4,881.0 V922.2 M886.4,881.0 H918.4 M886.4,922.2 H918.4" stroke="#2a2a2a" stroke-width="1.7" fill="none" opacity="1"/>
<rect x="893.1" y="893.2" width="18.5" height="18.5" fill="#4d4d4d"/>
<path d="M992.8,905.3 V950.0 M976.8,905.3 H1008.8 M976.8,950.0 H1008.8" stroke="#2a2a2a" stroke-width="1.7" fill="none" opacity="1"/>
<rect x="983.5" y="919.2" width="18.5" height="18.5" fill="#4d4d4d"/>
<path d="M1033.8,943.0 V981.3 M1017.8,943.0 H1049.8 M1017.8,981.3 H1049.8" stroke="#2a2a2a" stroke-width="1.7" fill="none" opacity="1"/>
<rect x="1024.5" y="953.1" width="18.5" height="18.5" fill="#4d4d4d"/>
<path d="M1199.6,1019.7 V1054.4 M1183.6,1019.7 H1215.6 M1183.6,1054.4 H1215.6" stroke="#3a3320" stroke-width="1.7" fill="none" opacity="0.75"/>
<path d="M1235.8,1034.3 V1069.0 M1219.8,1034.3 H1251.8 M1219.8,1069.0 H1251.8" stroke="#3a3320" stroke-width="1.7" fill="none" opacity="0.75"/>
<path d="M1247.2,1019.0 V1058.0 M1231.2,1019.0 H1263.2 M1231.2,1058.0 H1263.2" stroke="#2a2a2a" stroke-width="1.7" fill="none" opacity="1"/>
<rect x="1249.0" y="1029.2" width="7.5" height="18.5" fill="#4d4d4d"/>
<path d="M1407.0,1060.0 V1096.2 M1391.0,1060.0 H1423.0 M1391.0,1096.2 H1423.0" stroke="#3a3320" stroke-width="1.7" fill="none" opacity="0.75"/>
<path d="M1597.3,1096.4 V1131.2 M1581.3,1096.4 H1613.3 M1581.3,1131.2 H1613.3" stroke="#2a2a2a" stroke-width="1.7" fill="none" opacity="1"/>
<rect x="1588.0" y="1104.2" width="18.5" height="18.5" fill="#4d4d4d"/>
<path d="M1638.7,1111.2 V1145.6 M1622.7,1111.2 H1654.7 M1622.7,1145.6 H1654.7" stroke="#2a2a2a" stroke-width="1.7" fill="none" opacity="1"/>
<rect x="1629.5" y="1119.0" width="18.5" height="18.5" fill="#4d4d4d"/>
<path d="M1706.5,1133.9 V1163.6 M1690.5,1133.9 H1722.5 M1690.5,1163.6 H1722.5" stroke="#3a3320" stroke-width="1.7" fill="none" opacity="0.75"/>
<rect x="1697.2" y="1139.3" width="18.5" height="18.5" fill="#5a5a40" opacity="0.45"/>
<path d="M2124.5,1215.2 V1243.4 M2108.5,1215.2 H2140.5 M2108.5,1243.4 H2140.5" stroke="#2a2a2a" stroke-width="1.7" fill="none" opacity="1"/>
<rect x="2115.2" y="1221.0" width="18.5" height="18.5" fill="#4d4d4d"/>
</g>
<path d="M266.0,246.9 L270.4,257.9 L274.9,268.5 L279.3,278.7 L283.7,288.5 L288.2,297.9 L292.6,306.9 L297.0,315.5 L301.5,323.8 L305.9,331.7 L310.3,339.3 L314.8,346.6 L319.2,353.6 L323.6,360.3 L328.1,366.6 L332.5,372.7 L336.9,378.6 L341.4,384.2 L345.8,389.6 L350.3,394.7 L354.7,399.7 L359.1,404.5 L363.6,409.1 L368.0,413.6 L372.4,418.1 L376.9,422.5 L381.3,426.8 L385.7,431.1 L390.2,435.4 L394.6,439.8 L399.0,444.2 L403.5,448.7 L407.9,453.2 L412.3,457.9 L416.8,462.6 L421.2,467.3 L425.6,472.1 L430.1,477.0 L434.5,481.9 L438.9,486.8 L443.4,491.7 L447.8,496.7 L452.2,501.7 L456.7,506.6 L461.1,511.6 L465.5,516.5 L470.0,521.4 L474.4,526.3 L478.8,531.1 L483.3,535.9 L487.7,540.7 L492.2,545.4 L496.6,550.0 L501.0,554.5 L505.5,558.9 L509.9,563.3 L514.3,567.6 L518.8,571.7 L523.2,575.8 L527.6,579.8 L532.1,583.7 L536.5,587.6 L540.9,591.4 L545.4,595.1 L549.8,598.8 L554.2,602.5 L558.7,606.1 L563.1,609.7 L567.5,613.4 L572.0,616.9 L576.4,620.5 L580.8,624.1 L585.3,627.8 L589.7,631.4 L594.1,635.1 L598.6,638.8 L603.0,642.6 L607.4,646.3 L611.9,650.2 L616.3,654.0 L620.7,657.9 L625.2,661.8 L629.6,665.7 L634.1,669.7 L638.5,673.6 L642.9,677.6 L647.4,681.6 L651.8,685.6 L656.2,689.6 L660.7,693.6 L665.1,697.6 L669.5,701.7 L674.0,705.7 L678.4,709.7 L682.8,713.7 L687.3,717.7 L691.7,721.7 L696.1,725.7 L700.6,729.7 L705.0,733.6 L709.4,737.6 L713.9,741.5 L718.3,745.4 L722.7,749.2 L727.2,753.1 L731.6,756.9 L736.0,760.6 L740.5,764.3 L744.9,768.0 L749.3,771.7 L753.8,775.3 L758.2,778.8 L762.6,782.4 L767.1,785.8 L771.5,789.2 L776.0,792.6 L780.4,795.9 L784.8,799.1 L789.3,802.3 L793.7,805.4 L798.1,808.4 L802.6,811.4 L807.0,814.2 L811.4,817.1 L815.9,819.8 L820.3,822.5 L824.7,825.1 L829.2,827.5 L833.6,830.0 L838.0,832.3 L842.5,834.5 L846.9,836.7 L851.3,838.8 L855.8,840.8 L860.2,842.8 L864.6,844.6 L869.1,846.5 L873.5,848.2 L877.9,849.9 L882.4,851.6 L886.8,853.2 L891.2,854.7 L895.7,856.2 L900.1,857.7 L904.5,859.2 L909.0,860.6 L913.4,862.0 L917.9,863.4 L922.3,864.7 L926.7,866.1 L931.2,867.5 L935.6,868.8 L940.0,870.2 L944.5,871.5 L948.9,872.9 L953.3,874.3 L957.8,875.8 L962.2,877.3 L966.6,878.8 L971.1,880.5 L975.5,882.2 L979.9,884.0 L984.4,885.9 L988.8,887.9 L993.2,890.0 L997.7,892.2 L1002.1,894.6 L1006.5,897.2 L1011.0,899.9 L1015.4,902.7 L1019.8,905.7 L1024.3,908.8 L1028.7,911.9 L1033.1,915.1 L1037.6,918.3 L1042.0,921.4 L1046.4,924.5 L1050.9,927.5 L1055.3,930.5 L1059.8,933.3 L1064.2,936.1 L1068.6,938.8 L1073.1,941.3 L1077.5,943.9 L1081.9,946.3 L1086.4,948.7 L1090.8,951.0 L1095.2,953.3 L1099.7,955.5 L1104.1,957.7 L1108.5,959.8 L1113.0,962.0 L1117.4,964.0 L1121.8,966.1 L1126.3,968.1 L1130.7,970.1 L1135.1,972.2 L1139.6,974.2 L1144.0,976.2 L1148.4,978.2 L1152.9,980.2 L1157.3,982.2 L1161.7,984.3 L1166.2,986.4 L1170.6,988.5 L1175.0,990.6 L1179.5,992.6 L1183.9,994.7 L1188.3,996.7 L1192.8,998.7 L1197.2,1000.6 L1201.7,1002.4 L1206.1,1004.1 L1210.5,1005.8 L1215.0,1007.3 L1219.4,1008.7 L1223.8,1009.8 L1228.3,1010.5 L1232.7,1010.6 L1237.1,1009.9 L1241.6,1008.9 L1246.0,1007.8 L1250.4,1007.2 L1254.9,1007.0 L1259.3,1007.2 L1263.7,1007.5 L1268.2,1008.0 L1272.6,1008.7 L1277.0,1009.5 L1281.5,1010.4 L1285.9,1011.4 L1290.3,1012.4 L1294.8,1013.5 L1299.2,1014.6 L1303.6,1015.7 L1308.1,1016.9 L1312.5,1018.0 L1316.9,1019.1 L1321.4,1020.3 L1325.8,1021.4 L1330.2,1022.6 L1334.7,1023.7 L1339.1,1024.9 L1343.6,1026.0 L1348.0,1027.1 L1352.4,1028.2 L1356.9,1029.3 L1361.3,1030.3 L1365.7,1031.4 L1370.2,1032.4 L1374.6,1033.4 L1379.0,1034.4 L1383.5,1035.4 L1387.9,1036.4 L1392.3,1037.4 L1396.8,1038.3 L1401.2,1039.2 L1405.6,1040.2 L1410.1,1041.1 L1414.5,1042.0 L1418.9,1042.9 L1423.4,1043.8 L1427.8,1044.7 L1432.2,1045.5 L1436.7,1046.4 L1441.1,1047.3 L1445.5,1048.2 L1450.0,1049.0 L1454.4,1049.9 L1458.8,1050.8 L1463.3,1051.6 L1467.7,1052.5 L1472.1,1053.4 L1476.6,1054.2 L1481.0,1055.1 L1485.5,1056.0 L1489.9,1056.9 L1494.3,1057.8 L1498.8,1058.7 L1503.2,1059.6 L1507.6,1060.5 L1512.1,1061.4 L1516.5,1062.3 L1520.9,1063.3 L1525.4,1064.2 L1529.8,1065.2 L1534.2,1066.2 L1538.7,1067.2 L1543.1,1068.2 L1547.5,1069.2 L1552.0,1070.3 L1556.4,1071.4 L1560.8,1072.4 L1565.3,1073.5 L1569.7,1074.7 L1574.1,1075.8 L1578.6,1077.0 L1583.0,1078.2 L1587.4,1079.4 L1591.9,1080.6 L1596.3,1081.9 L1600.7,1083.1 L1605.2,1084.4 L1609.6,1085.7 L1614.0,1087.0 L1618.5,1088.3 L1622.9,1089.7 L1627.4,1091.0 L1631.8,1092.3 L1636.2,1093.7 L1640.7,1095.0 L1645.1,1096.4 L1649.5,1097.7 L1654.0,1099.1 L1658.4,1100.4 L1662.8,1101.8 L1667.3,1103.1 L1671.7,1104.5 L1676.1,1105.8 L1680.6,1107.1 L1685.0,1108.4 L1689.4,1109.7 L1693.9,1111.0 L1698.3,1112.3 L1702.7,1113.5 L1707.2,1114.8 L1711.6,1116.0 L1716.0,1117.2 L1720.5,1118.4 L1724.9,1119.6 L1729.3,1120.8 L1733.8,1121.9 L1738.2,1123.1 L1742.6,1124.2 L1747.1,1125.4 L1751.5,1126.5 L1755.9,1127.6 L1760.4,1128.7 L1764.8,1129.8 L1769.3,1130.9 L1773.7,1131.9 L1778.1,1133.0 L1782.6,1134.0 L1787.0,1135.1 L1791.4,1136.1 L1795.9,1137.1 L1800.3,1138.2 L1804.7,1139.2 L1809.2,1140.2 L1813.6,1141.1 L1818.0,1142.1 L1822.5,1143.1 L1826.9,1144.1 L1831.3,1145.0 L1835.8,1146.0 L1840.2,1146.9 L1844.6,1147.8 L1849.1,1148.8 L1853.5,1149.7 L1857.9,1150.6 L1862.4,1151.5 L1866.8,1152.4 L1871.2,1153.3 L1875.7,1154.2 L1880.1,1155.1 L1884.5,1156.0 L1889.0,1156.9 L1893.4,1157.7 L1897.8,1158.6 L1902.3,1159.5 L1906.7,1160.3 L1911.2,1161.2 L1915.6,1162.1 L1920.0,1162.9 L1924.5,1163.8 L1928.9,1164.6 L1933.3,1165.5 L1937.8,1166.3 L1942.2,1167.1 L1946.6,1168.0 L1951.1,1168.8 L1955.5,1169.6 L1959.9,1170.5 L1964.4,1171.3 L1968.8,1172.1 L1973.2,1173.0 L1977.7,1173.8 L1982.1,1174.6 L1986.5,1175.4 L1991.0,1176.3 L1995.4,1177.1 L1999.8,1177.9 L2004.3,1178.7 L2008.7,1179.6 L2013.1,1180.4 L2017.6,1181.2 L2022.0,1182.1 L2026.4,1182.9 L2030.9,1183.7 L2035.3,1184.6 L2039.7,1185.4 L2044.2,1186.3 L2048.6,1187.1 L2053.1,1187.9 L2057.5,1188.8 L2061.9,1189.7 L2066.4,1190.5 L2070.8,1191.4 L2075.2,1192.2 L2079.7,1193.1 L2084.1,1194.0 L2088.5,1194.9 L2093.0,1195.7 L2097.4,1196.6 L2101.8,1197.5 L2106.3,1198.4 L2110.7,1199.3 L2115.1,1200.2 L2119.6,1201.1 L2124.0,1202.1" fill="none" stroke="#808080" stroke-width="1.6"/>
<path d="M266.0,395.0 L270.4,404.7 L274.9,414.2 L279.3,423.2 L283.7,431.9 L288.2,440.2 L292.6,448.0 L297.0,455.4 L301.5,462.5 L305.9,469.3 L310.3,475.8 L314.8,482.0 L319.2,488.1 L323.6,494.0 L328.1,499.7 L332.5,505.3 L336.9,510.7 L341.4,516.0 L345.8,521.1 L350.3,526.1 L354.7,531.0 L359.1,535.8 L363.6,540.5 L368.0,545.1 L372.4,549.6 L376.9,554.1 L381.3,558.5 L385.7,562.9 L390.2,567.2 L394.6,571.6 L399.0,575.9 L403.5,580.1 L407.9,584.4 L412.3,588.7 L416.8,593.0 L421.2,597.2 L425.6,601.5 L430.1,605.7 L434.5,610.0 L438.9,614.2 L443.4,618.4 L447.8,622.6 L452.2,626.8 L456.7,631.0 L461.1,635.1 L465.5,639.3 L470.0,643.4 L474.4,647.5 L478.8,651.6 L483.3,655.6 L487.7,659.7 L492.2,663.7 L496.6,667.7 L501.0,671.7 L505.5,675.6 L509.9,679.5 L514.3,683.4 L518.8,687.3 L523.2,691.1 L527.6,694.9 L532.1,698.7 L536.5,702.4 L540.9,706.2 L545.4,709.8 L549.8,713.5 L554.2,717.1 L558.7,720.7 L563.1,724.2 L567.5,727.7 L572.0,731.1 L576.4,734.6 L580.8,737.9 L585.3,741.3 L589.7,744.6 L594.1,747.8 L598.6,751.0 L603.0,754.2 L607.4,757.3 L611.9,760.4 L616.3,763.4 L620.7,766.3 L625.2,769.3 L629.6,772.2 L634.1,775.1 L638.5,777.9 L642.9,780.8 L647.4,783.7 L651.8,786.6 L656.2,789.6 L660.7,792.5 L665.1,795.6 L669.5,798.7 L674.0,801.8 L678.4,805.1 L682.8,808.4 L687.3,811.8 L691.7,815.4 L696.1,819.0 L700.6,822.8 L705.0,826.7 L709.4,830.7 L713.9,834.8 L718.3,838.9 L722.7,843.0 L727.2,847.1 L731.6,851.1 L736.0,855.1 L740.5,858.9 L744.9,862.7 L749.3,866.2 L753.8,869.7 L758.2,873.1 L762.6,876.3 L767.1,879.4 L771.5,882.4 L776.0,885.3 L780.4,888.2 L784.8,890.9 L789.3,893.5 L793.7,896.1 L798.1,898.5 L802.6,900.9 L807.0,903.2 L811.4,905.5 L815.9,907.7 L820.3,909.8 L824.7,911.8 L829.2,913.8 L833.6,915.8 L838.0,917.7 L842.5,919.6 L846.9,921.4 L851.3,923.2 L855.8,925.0 L860.2,926.7 L864.6,928.5 L869.1,930.2 L873.5,931.9 L877.9,933.5 L882.4,935.2 L886.8,936.8 L891.2,938.5 L895.7,940.1 L900.1,941.7 L904.5,943.3 L909.0,945.0 L913.4,946.6 L917.9,948.2 L922.3,949.8 L926.7,951.5 L931.2,953.1 L935.6,954.8 L940.0,956.4 L944.5,958.1 L948.9,959.8 L953.3,961.6 L957.8,963.3 L962.2,965.1 L966.6,966.9 L971.1,968.7 L975.5,970.6 L979.9,972.5 L984.4,974.4 L988.8,976.4 L993.2,978.4 L997.7,980.5 L1002.1,982.6 L1006.5,984.7 L1011.0,986.9 L1015.4,989.1 L1019.8,991.3 L1024.3,993.5 L1028.7,995.8 L1033.1,998.1 L1037.6,1000.4 L1042.0,1002.6 L1046.4,1004.9 L1050.9,1007.2 L1055.3,1009.5 L1059.8,1011.8 L1064.2,1014.0 L1068.6,1016.3 L1073.1,1018.5 L1077.5,1020.7 L1081.9,1022.8 L1086.4,1025.0 L1090.8,1027.1 L1095.2,1029.1 L1099.7,1031.1 L1104.1,1033.1 L1108.5,1035.0 L1113.0,1036.8 L1117.4,1038.6 L1121.8,1040.4 L1126.3,1042.1 L1130.7,1043.9 L1135.1,1045.6 L1139.6,1047.2 L1144.0,1048.9 L1148.4,1050.6 L1152.9,1052.3 L1157.3,1054.0 L1161.7,1055.7 L1166.2,1057.5 L1170.6,1059.2 L1175.0,1061.0 L1179.5,1062.9 L1183.9,1064.8 L1188.3,1066.8 L1192.8,1068.8 L1197.2,1070.9 L1201.7,1072.9 L1206.1,1074.9 L1210.5,1076.7 L1215.0,1078.3 L1219.4,1079.7 L1223.8,1080.9 L1228.3,1081.7 L1232.7,1082.2 L1237.1,1082.5 L1241.6,1082.7 L1246.0,1082.9 L1250.4,1083.1 L1254.9,1083.4 L1259.3,1083.8 L1263.7,1084.3 L1268.2,1084.9 L1272.6,1085.5 L1277.0,1086.3 L1281.5,1087.0 L1285.9,1087.9 L1290.3,1088.8 L1294.8,1089.7 L1299.2,1090.7 L1303.6,1091.7 L1308.1,1092.8 L1312.5,1093.9 L1316.9,1095.0 L1321.4,1096.2 L1325.8,1097.3 L1330.2,1098.5 L1334.7,1099.6 L1339.1,1100.7 L1343.6,1101.8 L1348.0,1102.9 L1352.4,1103.9 L1356.9,1104.9 L1361.3,1105.8 L1365.7,1106.7 L1370.2,1107.5 L1374.6,1108.3 L1379.0,1109.1 L1383.5,1109.9 L1387.9,1110.7 L1392.3,1111.4 L1396.8,1112.2 L1401.2,1112.9 L1405.6,1113.7 L1410.1,1114.4 L1414.5,1115.2 L1418.9,1116.0 L1423.4,1116.8 L1427.8,1117.6 L1432.2,1118.4 L1436.7,1119.3 L1441.1,1120.1 L1445.5,1121.0 L1450.0,1121.8 L1454.4,1122.7 L1458.8,1123.6 L1463.3,1124.5 L1467.7,1125.4 L1472.1,1126.3 L1476.6,1127.3 L1481.0,1128.2 L1485.5,1129.1 L1489.9,1130.1 L1494.3,1131.0 L1498.8,1132.0 L1503.2,1133.0 L1507.6,1134.0 L1512.1,1135.0 L1516.5,1136.0 L1520.9,1137.0 L1525.4,1138.0 L1529.8,1139.0 L1534.2,1140.0 L1538.7,1141.0 L1543.1,1142.0 L1547.5,1143.1 L1552.0,1144.1 L1556.4,1145.1 L1560.8,1146.2 L1565.3,1147.2 L1569.7,1148.3 L1574.1,1149.3 L1578.6,1150.4 L1583.0,1151.4 L1587.4,1152.5 L1591.9,1153.6 L1596.3,1154.6 L1600.7,1155.7 L1605.2,1156.7 L1609.6,1157.8 L1614.0,1158.8 L1618.5,1159.9 L1622.9,1161.0 L1627.4,1162.0 L1631.8,1163.1 L1636.2,1164.1 L1640.7,1165.2 L1645.1,1166.2 L1649.5,1167.3 L1654.0,1168.3 L1658.4,1169.3 L1662.8,1170.4 L1667.3,1171.4 L1671.7,1172.4 L1676.1,1173.5 L1680.6,1174.5 L1685.0,1175.5 L1689.4,1176.5 L1693.9,1177.5 L1698.3,1178.5 L1702.7,1179.5 L1707.2,1180.4 L1711.6,1181.4 L1716.0,1182.4 L1720.5,1183.3 L1724.9,1184.3 L1729.3,1185.2 L1733.8,1186.2 L1738.2,1187.1 L1742.6,1188.0 L1747.1,1188.9 L1751.5,1189.9 L1755.9,1190.8 L1760.4,1191.6 L1764.8,1192.5 L1769.3,1193.4 L1773.7,1194.3 L1778.1,1195.2 L1782.6,1196.0 L1787.0,1196.9 L1791.4,1197.8 L1795.9,1198.6 L1800.3,1199.4 L1804.7,1200.3 L1809.2,1201.1 L1813.6,1202.0 L1818.0,1202.8 L1822.5,1203.6 L1826.9,1204.4 L1831.3,1205.2 L1835.8,1206.1 L1840.2,1206.9 L1844.6,1207.7 L1849.1,1208.5 L1853.5,1209.3 L1857.9,1210.1 L1862.4,1210.9 L1866.8,1211.7 L1871.2,1212.4 L1875.7,1213.2 L1880.1,1214.0 L1884.5,1214.8 L1889.0,1215.6 L1893.4,1216.4 L1897.8,1217.1 L1902.3,1217.9 L1906.7,1218.7 L1911.2,1219.5 L1915.6,1220.2 L1920.0,1221.0 L1924.5,1221.8 L1928.9,1222.6 L1933.3,1223.3 L1937.8,1224.1 L1942.2,1224.9 L1946.6,1225.7 L1951.1,1226.4 L1955.5,1227.2 L1959.9,1228.0 L1964.4,1228.8 L1968.8,1229.5 L1973.2,1230.3 L1977.7,1231.1 L1982.1,1231.9 L1986.5,1232.7 L1991.0,1233.4 L1995.4,1234.2 L1999.8,1235.0 L2004.3,1235.8 L2008.7,1236.6 L2013.1,1237.4 L2017.6,1238.2 L2022.0,1239.0 L2026.4,1239.8 L2030.9,1240.6 L2035.3,1241.5 L2039.7,1242.3 L2044.2,1243.1 L2048.6,1243.9 L2053.1,1244.8 L2057.5,1245.6 L2061.9,1246.4 L2066.4,1247.3 L2070.8,1248.1 L2075.2,1249.0 L2079.7,1249.8 L2084.1,1250.7 L2088.5,1251.6 L2093.0,1252.5 L2097.4,1253.3 L2101.8,1254.2 L2106.3,1255.1 L2110.7,1256.0 L2115.1,1256.9 L2119.6,1257.9 L2124.0,1258.8" fill="none" stroke="#1c1c1c" stroke-width="1.6"/>
<path d="M266.0,26 V1596.5" stroke="#000" stroke-width="6" fill="none"/>
<path d="M263.0,1567.0 H2175.5" stroke="#000" stroke-width="6" fill="none"/>
<path d="M267.3,248 V283 M267.3,368 V399" stroke="#9c9c90" stroke-width="3" fill="none"/>
<path d="M250.5,1566.6 H266.0" stroke="#000" stroke-width="5" fill="none"/>
<path d="M236.4,1395.7 H266.0" stroke="#000" stroke-width="5" fill="none"/>
<text x="216.5" y="1416.9" font-size="66" text-anchor="end">0.2</text>
<path d="M250.5,1224.9 H266.0" stroke="#000" stroke-width="5" fill="none"/>
<path d="M236.4,1054.0 H266.0" stroke="#000" stroke-width="5" fill="none"/>
<text x="216.5" y="1075.2" font-size="66" text-anchor="end">0.4</text>
<path d="M250.5,883.2 H266.0" stroke="#000" stroke-width="5" fill="none"/>
<path d="M236.4,712.3 H266.0" stroke="#000" stroke-width="5" fill="none"/>
<text x="216.5" y="733.5" font-size="66" text-anchor="end">0.6</text>
<path d="M250.5,541.4 H266.0" stroke="#000" stroke-width="5" fill="none"/>
<path d="M236.4,370.6 H266.0" stroke="#000" stroke-width="5" fill="none"/>
<text x="216.5" y="391.8" font-size="66" text-anchor="end">0.8</text>
<path d="M250.5,199.7 H266.0" stroke="#000" stroke-width="5" fill="none"/>
<path d="M236.4,28.9 H266.0" stroke="#000" stroke-width="5" fill="none"/>
<text x="216.5" y="50.1" font-size="66" text-anchor="end">1.0</text>
<text x="266.0" y="1669.2" font-size="66" text-anchor="middle">400</text>
<path d="M402.1,1567.0 V1581.5" stroke="#000" stroke-width="5" fill="none"/>
<path d="M538.3,1567.0 V1596.5" stroke="#000" stroke-width="5" fill="none"/>
<text x="538.3" y="1669.2" font-size="66" text-anchor="middle">600</text>
<path d="M674.4,1567.0 V1581.5" stroke="#000" stroke-width="5" fill="none"/>
<path d="M810.6,1567.0 V1596.5" stroke="#000" stroke-width="5" fill="none"/>
<text x="810.6" y="1669.2" font-size="66" text-anchor="middle">800</text>
<path d="M946.7,1567.0 V1581.5" stroke="#000" stroke-width="5" fill="none"/>
<path d="M1082.8,1567.0 V1596.5" stroke="#000" stroke-width="5" fill="none"/>
<text x="1082.8" y="1669.2" font-size="66" text-anchor="middle">1000</text>
<path d="M1219.0,1567.0 V1581.5" stroke="#000" stroke-width="5" fill="none"/>
<path d="M1355.1,1567.0 V1596.5" stroke="#000" stroke-width="5" fill="none"/>
<text x="1355.1" y="1669.2" font-size="66" text-anchor="middle">1200</text>
<path d="M1491.3,1567.0 V1581.5" stroke="#000" stroke-width="5" fill="none"/>
<path d="M1627.4,1567.0 V1596.5" stroke="#000" stroke-width="5" fill="none"/>
<text x="1627.4" y="1669.2" font-size="66" text-anchor="middle">1400</text>
<path d="M1763.5,1567.0 V1581.5" stroke="#000" stroke-width="5" fill="none"/>
<path d="M1899.7,1567.0 V1596.5" stroke="#000" stroke-width="5" fill="none"/>
<text x="1899.7" y="1669.2" font-size="66" text-anchor="middle">1600</text>
<path d="M2035.8,1567.0 V1581.5" stroke="#000" stroke-width="5" fill="none"/>
<path d="M2172.0,1567.0 V1596.5" stroke="#000" stroke-width="6" fill="none"/>
<text x="2172.0" y="1669.2" font-size="66" text-anchor="middle">1800</text>
<path d="M266.0,293.4 L271.8,304.1 L277.6,314.6 L283.5,325.0 L289.3,335.3 L295.1,345.5 L300.9,355.5 L306.8,365.5 L312.6,375.2 L318.4,384.9 L324.2,394.5 L330.1,403.9 L335.9,413.2 L341.7,422.4 L347.5,431.4 L353.4,440.4 L359.2,449.2 L365.0,457.9 L370.8,466.5 L376.7,474.9 L382.5,483.3 L388.3,491.5 L394.1,499.6 L400.0,507.5 L405.8,515.4 L411.6,523.1 L417.4,530.8 L423.3,538.3 L429.1,545.7 L434.9,553.0 L440.7,560.2 L446.6,567.2 L452.4,574.2 L458.2,581.1 L464.0,587.8 L469.9,594.5 L475.7,601.0 L481.5,607.5 L487.3,613.9 L493.2,620.1 L499.0,626.3 L504.8,632.4 L510.6,638.4 L516.5,644.3 L522.3,650.2 L528.1,655.9 L533.9,661.6 L539.7,667.1 L545.6,672.6 L551.4,678.1 L557.2,683.4 L563.0,688.7 L568.9,693.9 L574.7,699.0 L580.5,704.1 L586.3,709.0 L592.2,714.0 L598.0,718.8 L603.8,723.6 L609.6,728.3 L615.5,733.0 L621.3,737.6 L627.1,742.2 L632.9,746.7 L638.8,751.1 L644.6,755.5 L650.4,759.8 L656.2,764.1 L662.1,768.3 L667.9,772.5 L673.7,776.6 L679.5,780.7 L685.4,784.7 L691.2,788.7 L697.0,792.6 L702.8,796.5 L708.7,800.3 L714.5,804.1 L720.3,807.9 L726.1,811.6 L732.0,815.2 L737.8,818.8 L743.6,822.4 L749.4,825.9 L755.3,829.4 L761.1,832.8 L766.9,836.2 L772.7,839.6 L778.6,842.9 L784.4,846.2 L790.2,849.5 L796.0,852.7 L801.8,855.9 L807.7,859.0 L813.5,862.2 L819.3,865.3 L825.1,868.3 L831.0,871.3 L836.8,874.3 L842.6,877.3 L848.4,880.3 L854.3,883.2 L860.1,886.1 L865.9,888.9 L871.7,891.7 L877.6,894.5 L883.4,897.3 L889.2,900.1 L895.0,902.8 L900.9,905.5 L906.7,908.2 L912.5,910.8 L918.3,913.4 L924.2,916.0 L930.0,918.6 L935.8,921.2 L941.6,923.7 L947.5,926.2 L953.3,928.7 L959.1,931.2 L964.9,933.6 L970.8,936.1 L976.6,938.5 L982.4,940.9 L988.2,943.3 L994.1,945.6 L999.9,948.0 L1005.7,950.3 L1011.5,952.6 L1017.4,954.9 L1023.2,957.1 L1029.0,959.4 L1034.8,961.6 L1040.7,963.9 L1046.5,966.1 L1052.3,968.3 L1058.1,970.5 L1063.9,972.6 L1069.8,974.8 L1075.6,977.0 L1081.4,979.1 L1087.2,981.2 L1093.1,983.3 L1098.9,985.4 L1104.7,987.5 L1110.5,989.6 L1116.4,991.6 L1122.2,993.7 L1128.0,995.7 L1133.8,997.7 L1139.7,999.7 L1145.5,1001.7 L1151.3,1003.7 L1157.1,1005.7 L1163.0,1007.6 L1168.8,1009.6 L1174.6,1011.5 L1180.4,1013.4 L1186.3,1015.3 L1192.1,1017.2 L1197.9,1019.1 L1203.7,1021.0 L1209.6,1022.9 L1215.4,1024.7 L1221.2,1026.6 L1227.0,1028.4 L1232.9,1030.2 L1238.7,1032.0 L1244.5,1033.8 L1250.3,1035.6 L1256.2,1037.4 L1262.0,1039.2 L1267.8,1040.9 L1273.6,1042.7 L1279.5,1044.4 L1285.3,1046.1 L1291.1,1047.8 L1296.9,1049.6 L1302.8,1051.2 L1308.6,1052.9 L1314.4,1054.6 L1320.2,1056.3 L1326.1,1057.9 L1331.9,1059.6 L1337.7,1061.2 L1343.5,1062.8 L1349.3,1064.5 L1355.2,1066.1 L1361.0,1067.7 L1366.8,1069.3 L1372.6,1070.8 L1378.5,1072.4 L1384.3,1074.0 L1390.1,1075.5 L1395.9,1077.1 L1401.8,1078.6 L1407.6,1080.2 L1413.4,1081.7 L1419.2,1083.2 L1425.1,1084.7 L1430.9,1086.2 L1436.7,1087.7 L1442.5,1089.2 L1448.4,1090.6 L1454.2,1092.1 L1460.0,1093.6 L1465.8,1095.0 L1471.7,1096.5 L1477.5,1097.9 L1483.3,1099.3 L1489.1,1100.7 L1495.0,1102.1 L1500.8,1103.6 L1506.6,1105.0 L1512.4,1106.3 L1518.3,1107.7 L1524.1,1109.1 L1529.9,1110.5 L1535.7,1111.8 L1541.6,1113.2 L1547.4,1114.5 L1553.2,1115.9 L1559.0,1117.2 L1564.9,1118.6 L1570.7,1119.9 L1576.5,1121.2 L1582.3,1122.5 L1588.2,1123.8 L1594.0,1125.1 L1599.8,1126.4 L1605.6,1127.7 L1611.4,1129.0 L1617.3,1130.3 L1623.1,1131.6 L1628.9,1132.8 L1634.7,1134.1 L1640.6,1135.3 L1646.4,1136.6 L1652.2,1137.8 L1658.0,1139.1 L1663.9,1140.3 L1669.7,1141.6 L1675.5,1142.8 L1681.3,1144.0 L1687.2,1145.2 L1693.0,1146.4 L1698.8,1147.6 L1704.6,1148.9 L1710.5,1150.1 L1716.3,1151.3 L1722.1,1152.4 L1727.9,1153.6 L1733.8,1154.8 L1739.6,1156.0 L1745.4,1157.2 L1751.2,1158.4 L1757.1,1159.5 L1762.9,1160.7 L1768.7,1161.9 L1774.5,1163.0 L1780.4,1164.2 L1786.2,1165.3 L1792.0,1166.5 L1797.8,1167.6 L1803.7,1168.8 L1809.5,1169.9 L1815.3,1171.1 L1821.1,1172.2 L1827.0,1173.3 L1832.8,1174.5 L1838.6,1175.6 L1844.4,1176.7 L1850.3,1177.8 L1856.1,1179.0 L1861.9,1180.1 L1867.7,1181.2 L1873.5,1182.3 L1879.4,1183.4 L1885.2,1184.6 L1891.0,1185.7 L1896.8,1186.8 L1902.7,1187.9 L1908.5,1189.0 L1914.3,1190.1 L1920.1,1191.2 L1926.0,1192.3 L1931.8,1193.4 L1937.6,1194.5 L1943.4,1195.6 L1949.3,1196.7 L1955.1,1197.8 L1960.9,1198.9 L1966.7,1200.0 L1972.6,1201.1 L1978.4,1202.2 L1984.2,1203.3 L1990.0,1204.4 L1995.9,1205.5 L2001.7,1206.6 L2007.5,1207.7 L2013.3,1208.8 L2019.2,1209.9 L2025.0,1211.0 L2030.8,1212.1 L2036.6,1213.2 L2042.5,1214.3 L2048.3,1215.4 L2054.1,1216.5 L2059.9,1217.6 L2065.8,1218.7 L2071.6,1219.8 L2077.4,1220.9 L2083.2,1222.0 L2089.1,1223.1 L2094.9,1224.2 L2100.7,1225.3 L2106.5,1226.4 L2112.4,1227.5 L2118.2,1228.6 L2124.0,1229.7" fill="none" stroke="#ee0a1e" stroke-width="7.6" stroke-linejoin="round"/>
<text x="995" y="1779.2" font-size="81">E<tspan class="sym" dx="-1">γ</tspan><tspan dx="-2"> (keV)</tspan></text>
<text transform="translate(64.2,1012.5) rotate(-90)" font-size="81">Efficiency (%)</text>
<text x="308.5" y="1506" font-size="72"><tspan class="sym">γ</tspan><tspan dx="-3">-ray energy range (400-1764) keV</tspan></text>
<rect x="1308.5" y="75.3" width="19" height="19" fill="#4f4f4f"/>
<path d="M1243.5,165 H1392" stroke="#f00a28" stroke-width="6.2" fill="none"/>
<g>
<rect x="1247" y="216" width="145" height="72" fill="#f9f9f9"/>
<rect x="1248" y="216" width="56" height="32" fill="#e6f092"/>
<rect x="1368" y="216" width="24" height="32" fill="#e6f092"/>
<rect x="1304" y="239.6" width="64" height="8.6" fill="#f8fcd6"/>
<rect x="1248" y="224.2" width="56" height="15.4" fill="#ebcb82"/>
<rect x="1374" y="224.2" width="18" height="15.4" fill="#ebcb82"/>
<rect x="1310.5" y="248" width="57.2" height="40" fill="#e4e8bc"/>
<path d="M1307.6,217.4 H1367.7" stroke="#0a0a0a" stroke-width="3" fill="none"/>
<path d="M1245.3,216 V246.5" stroke="#0a0a0a" stroke-width="3.4" fill="none"/>
<path d="M1388.2,246.7 V287" stroke="#333" stroke-width="2.2" stroke-dasharray="1.3,1.1" fill="none"/>
<path d="M1248,288.6 H1304 M1367.7,288.6 H1384" stroke="#222" stroke-width="2.2" stroke-dasharray="1.5,1.2" fill="none"/>
<path d="M1248,292 H1304 M1367.7,292 H1384 M1248,295 H1304 M1367.7,295 H1384" stroke="#aaa" stroke-width="1" stroke-dasharray="1,2.5" fill="none"/>
</g>
<text x="1407.3" y="106.8" font-size="65.25">Measured efficiency</text>
<text x="1407.3" y="186.8" font-size="65.25">Fitted efficiency</text>
<text x="1407.3" y="275" font-size="65.25">Confidence interval (2<tspan class="sym" font-size="72" dx="1">σ</tspan><tspan dx="1.5">)</tspan></text>
<text x="1407.3" y="355.4" font-size="65.25">Distance:8 cm</text>
<text x="1407.3" y="435.4" font-size="65.25">R-Square (COD)=0.9988</text>
</svg></body></html>
